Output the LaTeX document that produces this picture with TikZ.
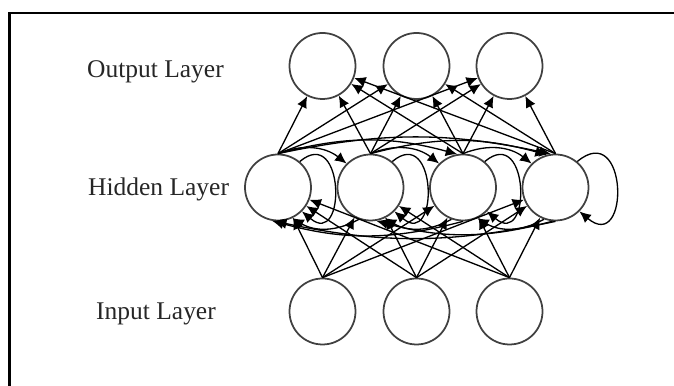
\documentclass[tikz,border=0pt]{standalone}
\usepackage{fontspec}
\setmainfont{Liberation Serif}
\usetikzlibrary{arrows.meta}

\begin{document}
\begin{tikzpicture}
\tikzset{neurone/.style={draw=black!75, line width=1pt, circle, minimum size=1.32cm, inner sep=0pt},
  couche/.style={anchor=base west, text=black!85, font=\fontsize{14.5}{17}\selectfont},
  fleche/.style={-{Latex[length=6.5pt,width=6pt]}, line width=0.75pt},
  boucle/.style={fleche, out=40, in=-40, looseness=3}}
\useasboundingbox (0, 0) rectangle (13.48, 7.72);
\clip (0, 0) rectangle (13.48, 7.72);
\draw[line width=1.2pt] (0.19, 0) -- (0.19, 7.46) -- (13.48, 7.46);
% les couches
\node[couche] (LO) at (1.62, 6.17) {Output Layer};
\node[couche] (LH) at (1.64, 3.81) {Hidden Layer};
\node[couche] (LI) at (1.80, 1.32) {Input Layer};
\node[neurone] (O1) at (6.45, 6.40) {};
\node[neurone] (O2) at (8.33, 6.40) {};
\node[neurone] (O3) at (10.19, 6.40) {};
\node[neurone] (H1) at (5.56, 3.97) {};
\node[neurone] (H2) at (7.41, 3.97) {};
\node[neurone] (H3) at (9.26, 3.97) {};
\node[neurone] (H4) at (11.11, 3.97) {};
\node[neurone] (I1) at (6.45, 1.49) {};
\node[neurone] (I2) at (8.33, 1.49) {};
\node[neurone] (I3) at (10.19, 1.49) {};
% entree -> cachee
\draw[fleche] (I1.north) -- (H1);
\draw[fleche] (I1.north) -- (H2);
\draw[fleche] (I1.north) -- (H3);
\draw[fleche] (I1.north) -- (H4);
\draw[fleche] (I2.north) -- (H1);
\draw[fleche] (I2.north) -- (H2);
\draw[fleche] (I2.north) -- (H3);
\draw[fleche] (I2.north) -- (H4);
\draw[fleche] (I3.north) -- (H1);
\draw[fleche] (I3.north) -- (H2);
\draw[fleche] (I3.north) -- (H3);
\draw[fleche] (I3.north) -- (H4);
% cachee -> sortie
\draw[fleche] (H1.north) -- (O1);
\draw[fleche] (H1.north) -- (O2);
\draw[fleche] (H1.north) -- (O3);
\draw[fleche] (H2.north) -- (O1);
\draw[fleche] (H2.north) -- (O2);
\draw[fleche] (H2.north) -- (O3);
\draw[fleche] (H3.north) -- (O1);
\draw[fleche] (H3.north) -- (O2);
\draw[fleche] (H3.north) -- (O3);
\draw[fleche] (H4.north) -- (O1);
\draw[fleche] (H4.north) -- (O2);
\draw[fleche] (H4.north) -- (O3);
% recurrence
\draw[boucle] (H1.50) to (H1.-45);
\draw[boucle] (H2.50) to (H2.-45);
\draw[boucle] (H3.50) to (H3.-45);
\draw[boucle, looseness=3.4] (H4.50) to (H4.-45);
\draw[fleche] (H1.north) to[bend left=30] (H2.135);
\draw[fleche] (H2.north) to[bend left=30] (H3.135);
\draw[fleche] (H3.north) to[bend left=30] (H4.135);
\draw[fleche] (H1.north) to[bend left=15] (H3.100);
\draw[fleche] (H1.north) to[bend left=12] (H4.98);
\draw[fleche] (H2.north) to[bend left=15] (H4.105);
\draw[fleche] (H2.-110) to[bend left=30] (H1.-65);
\draw[fleche] (H3.-110) to[bend left=30] (H2.-65);
\draw[fleche] (H4.-110) to[bend left=30] (H3.-65);
\draw[fleche] (H3.south) to[bend left=15] (H1.-100);
\draw[fleche] (H4.south) to[bend left=12] (H1.-95);
\draw[fleche] (H4.-95) to[bend left=15] (H2.-80);
\end{tikzpicture}
\end{document}
